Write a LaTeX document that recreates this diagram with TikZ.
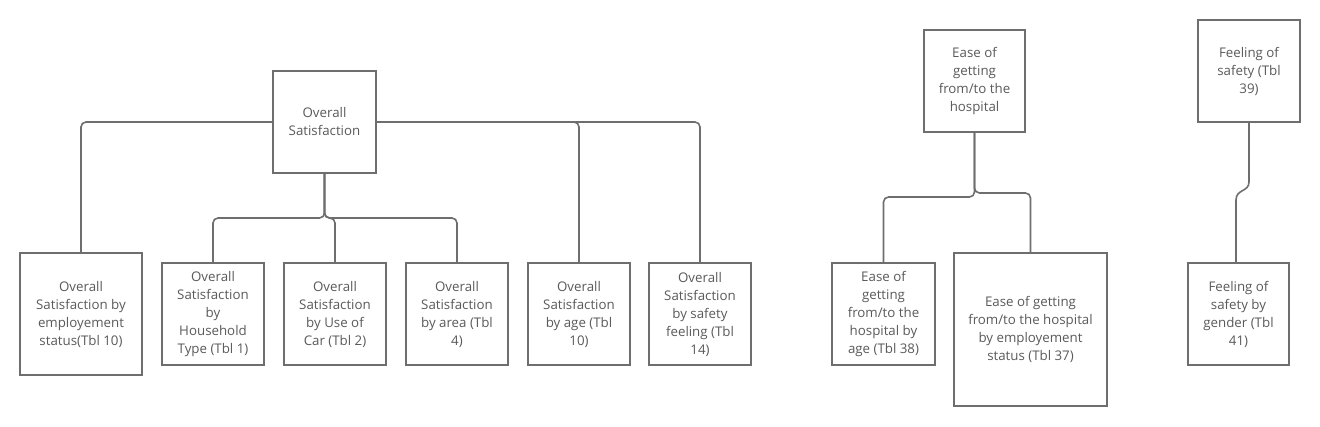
\documentclass[tikz,border=0pt]{standalone}
\usepackage{fontspec}
\setmainfont{Open Sans}
\definecolor{linec}{HTML}{6E6E6E}
\definecolor{textc}{HTML}{5A5A5A}
\tikzset{
  box/.style={draw=linec, line width=1.6pt, fill=white, inner sep=0pt, align=center,
    text=textc, font=\fontsize{13.3}{18}\selectfont},
  sq/.style={box, minimum width=102pt, minimum height=102pt},
  conn/.style={draw=linec, line width=1.6pt, rounded corners=5pt},
}
\begin{document}
\begin{tikzpicture}[x=1pt,y=-1pt]
\useasboundingbox (0,0) rectangle (1320,426);
% nodes
\node[sq, minimum width=103pt] (os) at (324.5,122) {Overall\\Satisfaction};
\node[box, minimum width=122pt, minimum height=122pt] (emp) at (81,314) {Overall\\Satisfaction by\\employement\\status(Tbl 10)};
\node[sq] (hh) at (213,314) {Overall\\Satisfaction\\by\\Household\\Type (Tbl 1)};
\node[sq] (car) at (335,314) {Overall\\Satisfaction\\by Use of\\Car (Tbl 2)};
\node[sq] (area) at (457,314) {Overall\\Satisfaction\\by area (Tbl\\4)};
\node[sq] (age) at (579,314) {Overall\\Satisfaction\\by age (Tbl\\10)};
\node[sq] (safe) at (700,314) {Overall\\Satisfaction\\by safety\\feeling (Tbl\\14)};
\node[sq, minimum width=101pt] (ease) at (974.5,81) {Ease of\\getting\\from/to the\\hospital};
\node[sq, minimum width=103pt] (ea) at (883.5,314) {Ease of\\getting\\from/to the\\hospital by\\age (Tbl 38)};
\node[box, minimum width=153pt, minimum height=153pt] (ee) at (1030.5,329.5) {Ease of getting\\from/to the hospital\\by employement\\status (Tbl 37)};
\node[sq] (fs) at (1249,71) {Feeling of\\safety (Tbl\\39)};
\node[sq, minimum width=101pt] (fg) at (1238.5,314) {Feeling of\\safety by\\gender (Tbl\\41)};
% connectors
\draw[conn] (os.west) -| (emp.north);
\draw[conn] (os.east) -| (age.north);
\draw[conn] (os.east) -| (safe.north);
\draw[conn] (os.south) |- (hh.north |- 0,218) -- (hh.north);
\draw[conn] (os.south) |- (car.north |- 0,218) -- (car.north);
\draw[conn] (os.south) |- (area.north |- 0,218) -- (area.north);
\draw[conn] (ease.south) |- (ea.north |- 0,197) -- (ea.north);
\draw[conn] (ease.south) |- (ee.north |- 0,193) -- (ee.north);
\draw[line width=1.6pt, draw=linec] (fs.south) -- (1249,182) .. controls (1249,192) and (1236,189) .. (1236,200) -- (fg.north -| 1236,0);
\end{tikzpicture}
\end{document}
